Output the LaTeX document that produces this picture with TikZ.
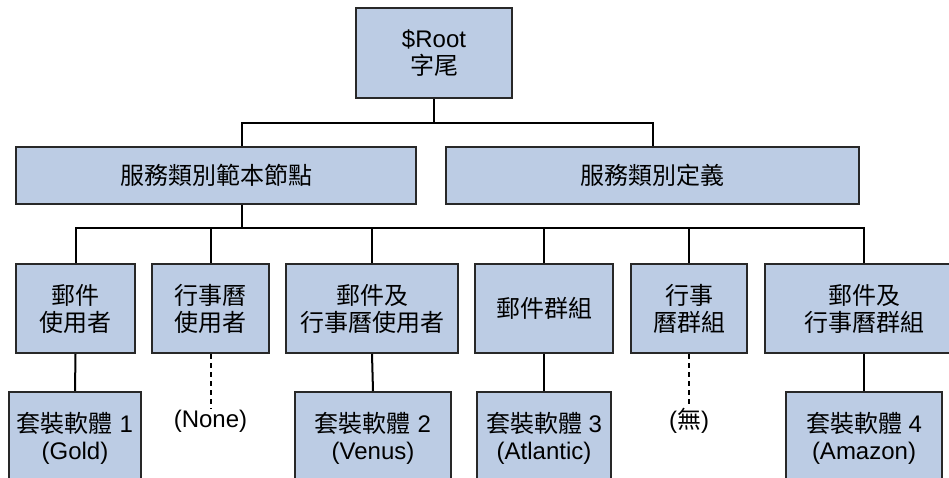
\documentclass[tikz,border=0pt]{standalone}
\usepackage{fontspec}
\setmainfont{Liberation Sans}
\newfontfamily\cjk{Noto Sans CJK TC}
\definecolor{boxfill}{RGB}{188,204,228}
\definecolor{boxline}{RGB}{40,40,40}
\tikzset{
  box/.style={draw=boxline, line width=2pt, fill=boxfill, inner sep=0pt, align=center,
    font=\fontsize{24}{27}\selectfont},
  conn/.style={line width=2pt, black},
  dconn/.style={line width=2pt, black, dash pattern=on 5pt off 4pt},
  plaintext/.style={inner sep=1pt, font=\fontsize{24}{27}\selectfont},
}
\begin{document}
\begin{tikzpicture}[x=1pt,y=-1pt]
\useasboundingbox (0,0) rectangle (949,478);
\clip (0,0) rectangle (949,478);

\coordinate (j1) at (434,123);
\coordinate (j2) at (242,228);

% root
\node[box, minimum width=156pt, minimum height=90pt] (root) at (434,53) {\$Root\\{\cjk 字尾}};

% level 2
\node[box, minimum width=400pt, minimum height=57pt] (tmpl) at (216,175.5) {{\cjk 服務類別範本節點}};
\node[box, minimum width=413pt, minimum height=57pt] (defs) at (652.5,175.5) {{\cjk 服務類別定義}};

% level 3
\node[box, minimum width=119pt, minimum height=89pt] (c1) at (75.5,308.5) {{\cjk 郵件}\\{\cjk 使用者}};
\node[box, minimum width=117pt, minimum height=89pt] (c2) at (210.5,308.5) {{\cjk 行事曆}\\{\cjk 使用者}};
\node[box, minimum width=172pt, minimum height=89pt] (c3) at (372,308.5) {{\cjk 郵件及}\\{\cjk 行事曆使用者}};
\node[box, minimum width=138pt, minimum height=89pt] (c4) at (544,308.5) {{\cjk 郵件群組}};
\node[box, minimum width=116pt, minimum height=89pt] (c5) at (689,308.5) {{\cjk 行事}\\{\cjk 曆群組}};
\node[box, minimum width=198pt, minimum height=89pt] (c6) at (864,308.5) {{\cjk 郵件及}\\{\cjk 行事曆群組}};

% level 4
\node[box, minimum width=132pt, minimum height=92pt] (b1) at (75,438) {{\cjk 套裝軟體} 1\\(Gold)};
\node[plaintext] (n2) at (210.5,421) {(None)};
\node[box, minimum width=156pt, minimum height=92pt] (b3) at (373,438) {{\cjk 套裝軟體} 2\\(Venus)};
\node[box, minimum width=134pt, minimum height=92pt] (b4) at (544,438) {{\cjk 套裝軟體} 3\\(Atlantic)};
\node[plaintext] (n5) at (689,421) {({\cjk 無})};
\node[box, minimum width=156pt, minimum height=92pt] (b6) at (864,438) {{\cjk 套裝軟體} 4\\(Amazon)};

% connectors
\draw[conn] (root.south) -- (j1);
\draw[conn] (j1) -| ([xshift=26pt]tmpl.north);
\draw[conn] (j1) -| (defs.north);
\draw[conn] ([xshift=26pt]tmpl.south) -- (j2);
\draw[conn] (j2) -| (c1.north);
\draw[conn] (j2) -| (c2.north);
\draw[conn] (j2) -| (c3.north);
\draw[conn] (j2) -| (c4.north);
\draw[conn] (j2) -| (c5.north);
\draw[conn] (j2) -| (c6.north);
\draw[conn] (c1.south) -- (b1.north);
\draw[dconn] (c2.south) -- (n2.north);
\draw[conn] (c3.south) -- (b3.north);
\draw[conn] (c4.south) -- (b4.north);
\draw[dconn] (c5.south) -- (n5.north);
\draw[conn] (c6.south) -- (b6.north);
\end{tikzpicture}
\end{document}
